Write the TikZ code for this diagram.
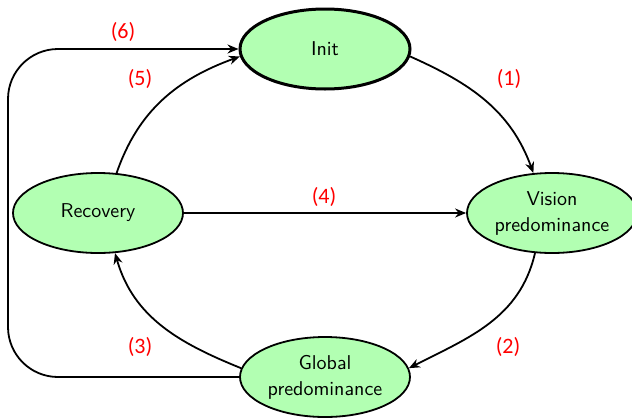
\documentclass[tikz,border=0pt]{standalone}
\usepackage{fontspec}
\newfontfamily\labelfont{Carlito}
\usetikzlibrary{shapes.geometric,arrows.meta}
\tikzset{
  state/.style={ellipse, draw=black, line width=0.9pt, fill=green!30,
    minimum width=85pt, minimum height=40pt, inner sep=0.5pt,
    font=\sffamily, align=center},
  initstate/.style={state, line width=1.5pt},
  trans/.style={line width=0.9pt, -{Stealth[length=5.5pt,width=4.5pt]}},
  tag/.style={text=red, font=\labelfont\fontsize{11}{13}\selectfont}
}
\begin{document}
\begin{tikzpicture}[x=0.5pt, y=-0.5pt]
\useasboundingbox (0,0) rectangle (632,418);

% states
\node[initstate] (init) at (325,49) {Init};
\node[state] (vision) at (552,213) {Vision\\[1pt]predominance};
\node[state] (recovery) at (98,213) {Recovery};
\node[state] (global) at (325,377) {Global\\[1pt]predominance};
\coordinate (leftrail) at (8,213);

% transitions
\draw[trans] (init.-5) to[out=-24, in=110] (vision.115);
\draw[trans] (vision.-113) to[out=-103, in=27] (global.6);
\draw[trans] (global.174) to[out=158, in=-74] (recovery.-67);
\draw[trans] (recovery) -- (vision);
\draw[trans] (recovery.65) to[out=71, in=200] (init.185);
\draw[trans, rounded corners=25pt] (global.west) -| (leftrail) |- (init.west);

% transition numbers
\node[tag] (t1) at (509,79) {(1)};
\node[tag] (t2) at (508,347) {(2)};
\node[tag] (t3) at (140,347) {(3)};
\node[tag] (t4) at (324,197) {(4)};
\node[tag] (t5) at (140,79) {(5)};
\node[tag] (t6) at (123,32) {(6)};
\end{tikzpicture}
\end{document}
